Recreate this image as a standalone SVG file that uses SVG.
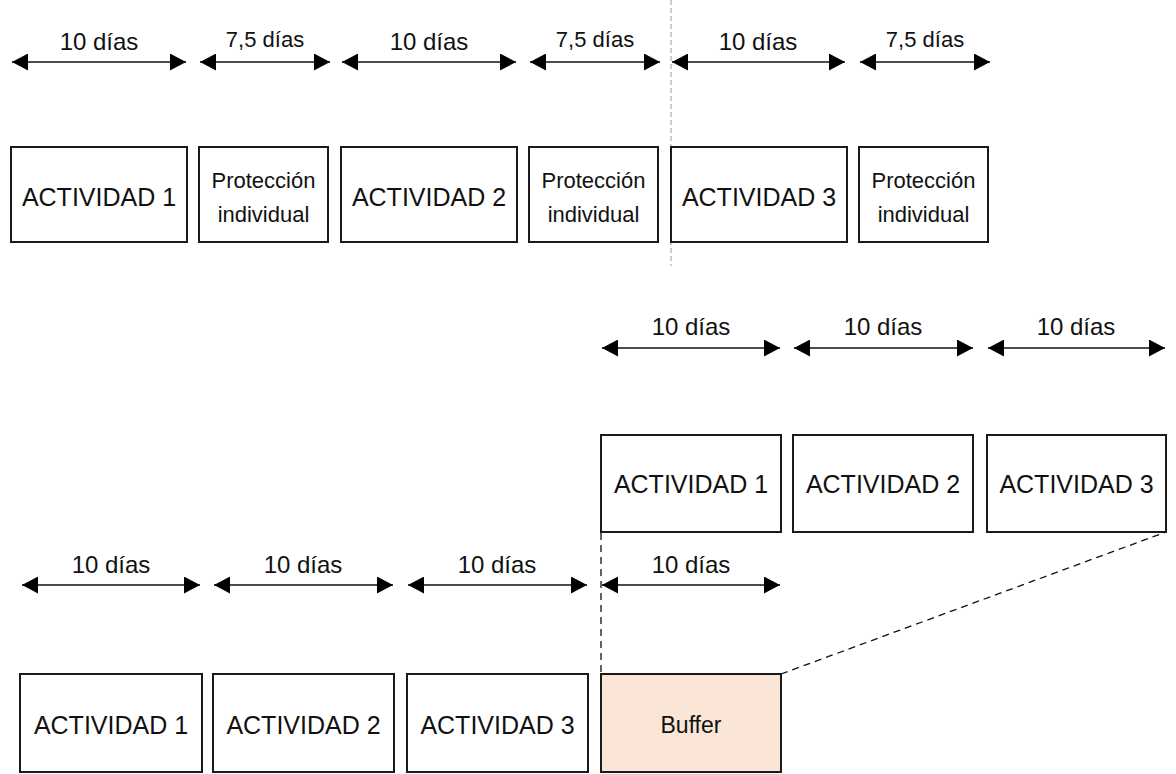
<svg xmlns="http://www.w3.org/2000/svg" width="1176" height="774" viewBox="0 0 1176 774">
<defs>
<style>
.box{fill:#fff;stroke:#1a1a1a;stroke-width:2}
.buf{fill:#fbe5d6;stroke:#1a1a1a;stroke-width:2}
.lbl{font-family:"Liberation Sans",Arial,sans-serif;font-size:25px;fill:#111;text-anchor:middle}
.sm{font-family:"Liberation Sans",Arial,sans-serif;font-size:22px;fill:#111;text-anchor:middle}
.bt{font-family:"Liberation Sans",Arial,sans-serif;font-size:23px;fill:#111;text-anchor:middle}
.dur{font-family:"Liberation Sans",Arial,sans-serif;font-size:24px;fill:#111;text-anchor:middle}
.dur75{font-family:"Liberation Sans",Arial,sans-serif;font-size:22px;fill:#111;text-anchor:middle}
.arr{stroke:#111;stroke-width:1.6;fill:none;marker-start:url(#ah);marker-end:url(#ah)}
.dash{stroke:#111;stroke-width:1.3;fill:none;stroke-dasharray:7 5}
.gdash{stroke:#9a9a9a;stroke-width:1;fill:none;stroke-dasharray:5 3}
</style>
<marker id="ah" viewBox="0 0 16 17" refX="16" refY="8.5" markerWidth="16" markerHeight="17" markerUnits="userSpaceOnUse" orient="auto-start-reverse">
<path d="M0,0 L16,8.5 L0,17 z" fill="#000"/>
</marker>
</defs>
<rect width="1176" height="774" fill="#fff"/>

<g id="connectors">
<line class="gdash" x1="671" y1="0" x2="671" y2="266"/>
<line class="arr" x1="12" y1="62" x2="186" y2="62"/>
<line class="arr" x1="200" y1="62" x2="330" y2="62"/>
<line class="arr" x1="342" y1="62" x2="516" y2="62"/>
<line class="arr" x1="530" y1="62" x2="660" y2="62"/>
<line class="arr" x1="672" y1="62" x2="845" y2="62"/>
<line class="arr" x1="860" y1="62" x2="990" y2="62"/>
<line class="arr" x1="602" y1="348" x2="780" y2="348"/>
<line class="arr" x1="794" y1="348" x2="973" y2="348"/>
<line class="arr" x1="988" y1="348" x2="1165" y2="348"/>
<line class="arr" x1="22" y1="585" x2="200" y2="585"/>
<line class="arr" x1="214" y1="585" x2="393" y2="585"/>
<line class="arr" x1="408" y1="585" x2="587" y2="585"/>
<line class="arr" x1="602" y1="585" x2="780" y2="585"/>
<line class="dash" x1="601" y1="533" x2="601" y2="674"/>
<line class="dash" x1="781" y1="674" x2="1166" y2="532"/>
</g>

<g id="labels">
<text class="dur" x="99" y="50">10 días</text>
<text class="dur75" x="265" y="47">7,5 días</text>
<text class="dur" x="429" y="50">10 días</text>
<text class="dur75" x="595" y="47">7,5 días</text>
<text class="dur" x="758" y="50">10 días</text>
<text class="dur75" x="925" y="47">7,5 días</text>
<text class="dur" x="691" y="335">10 días</text>
<text class="dur" x="883" y="335">10 días</text>
<text class="dur" x="1076" y="335">10 días</text>
<text class="dur" x="111" y="573">10 días</text>
<text class="dur" x="303" y="573">10 días</text>
<text class="dur" x="497" y="573">10 días</text>
<text class="dur" x="691" y="573">10 días</text>
</g>

<g id="top-act1"><rect class="box" x="11" y="147" width="176" height="95"/><text class="lbl" x="99" y="206">ACTIVIDAD 1</text></g>
<g id="top-prot1"><rect class="box" x="199" y="147" width="129" height="95"/><text class="sm" x="263.5" y="188">Protección</text><text class="sm" x="263.5" y="222">individual</text></g>
<g id="top-act2"><rect class="box" x="341" y="147" width="176" height="95"/><text class="lbl" x="429" y="206">ACTIVIDAD 2</text></g>
<g id="top-prot2"><rect class="box" x="529" y="147" width="129" height="95"/><text class="sm" x="593.5" y="188">Protección</text><text class="sm" x="593.5" y="222">individual</text></g>
<g id="top-act3"><rect class="box" x="671" y="147" width="176" height="95"/><text class="lbl" x="759" y="206">ACTIVIDAD 3</text></g>
<g id="top-prot3"><rect class="box" x="859" y="147" width="129" height="95"/><text class="sm" x="923.5" y="188">Protección</text><text class="sm" x="923.5" y="222">individual</text></g>

<g id="mid-act1"><rect class="box" x="601" y="435" width="180" height="97"/><text class="lbl" x="691" y="493">ACTIVIDAD 1</text></g>
<g id="mid-act2"><rect class="box" x="793" y="435" width="180" height="97"/><text class="lbl" x="883" y="493">ACTIVIDAD 2</text></g>
<g id="mid-act3"><rect class="box" x="987" y="435" width="179" height="97"/><text class="lbl" x="1076.5" y="493">ACTIVIDAD 3</text></g>

<g id="bot-act1"><rect class="box" x="20" y="674" width="182" height="98"/><text class="lbl" x="111" y="734">ACTIVIDAD 1</text></g>
<g id="bot-act2"><rect class="box" x="213" y="674" width="181" height="98"/><text class="lbl" x="303.5" y="734">ACTIVIDAD 2</text></g>
<g id="bot-act3"><rect class="box" x="407" y="674" width="181" height="98"/><text class="lbl" x="497.5" y="734">ACTIVIDAD 3</text></g>
<g id="bot-buffer"><rect class="buf" x="601" y="674" width="180" height="98"/><text class="bt" x="691" y="733">Buffer</text></g>
</svg>
